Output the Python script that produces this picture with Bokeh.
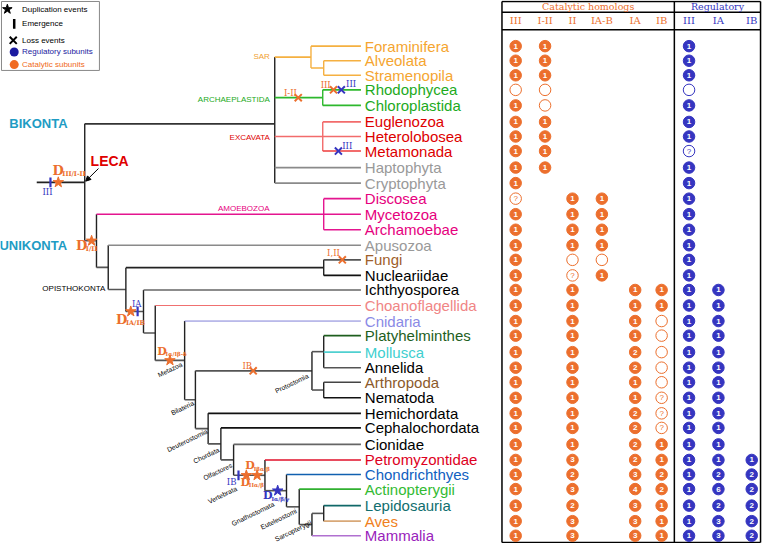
import math
from bokeh.plotting import figure
from bokeh.models import Range1d, Arrow, NormalHead
from bokeh.core.properties import value
from bokeh.embed import file_html
from bokeh.resources import INLINE

# ---------------- data ----------------
taxa = ["Foraminifera", "Alveolata", "Stramenopila", "Rhodophycea", "Chloroplastida",
        "Euglenozoa", "Heterolobosea", "Metamonada", "Haptophyta", "Cryptophyta",
        "Discosea", "Mycetozoa", "Archamoebae", "Apusozoa", "Fungi", "Nucleariidae",
        "Ichthyosporea", "Choanoflagellida", "Cnidaria", "Platyhelminthes", "Mollusca",
        "Annelida", "Arthropoda", "Nematoda", "Hemichordata", "Cephalochordata",
        "Cionidae", "Petromyzontidae", "Chondrichthyes", "Actinopterygii",
        "Lepidosauria", "Aves", "Mammalia"]
taxa_row = [47, 62, 77, 92, 108, 125, 140, 155, 172, 188, 204, 220, 236, 252, 267, 283,
            298, 314, 330, 345, 362, 378, 393, 409, 425, 440, 457, 473, 488, 503, 520, 536, 551]

cat_cols = ["III", "I-II", "II", "IA-B", "IA", "IB"]
reg_cols = ["III", "IA", "IB"]
# "o" = absent (open circle), "?" = uncertain, "" = not shown
cat_III = ["1", "1", "1", "o", "1", "1", "1", "1", "1", "1", "?", "1", "1", "1", "1", "1", "1",
           "1", "1", "1", "1", "1", "1", "1", "1", "1", "1", "1", "1", "1", "1", "1", "1"]
cat_I_II = ["1", "1", "1", "o", "o", "1", "1", "1", "1", "", "", "", "", "", "", "", "",
            "", "", "", "", "", "", "", "", "", "", "", "", "", "", "", ""]
cat_II = ["", "", "", "", "", "", "", "", "", "", "1", "1", "1", "1", "o", "?", "1",
          "1", "1", "1", "1", "1", "1", "1", "1", "1", "1", "3", "2", "3", "2", "3", "3"]
cat_IA_B = ["", "", "", "", "", "", "", "", "", "", "1", "1", "1", "1", "o", "1", "",
            "", "", "", "", "", "", "", "", "", "", "", "", "", "", "", ""]
cat_IA = ["", "", "", "", "", "", "", "", "", "", "", "", "", "", "", "", "1",
          "1", "1", "1", "2", "2", "1", "1", "2", "2", "2", "2", "3", "4", "3", "3", "3"]
cat_IB = ["", "", "", "", "", "", "", "", "", "", "", "", "", "", "", "", "1",
          "1", "o", "o", "o", "o", "o", "?", "?", "?", "1", "1", "2", "2", "1", "1", "1"]
reg_III = ["1", "1", "1", "o", "1", "1", "1", "?", "1", "1", "1", "1", "1", "1", "1", "1", "1",
           "1", "1", "1", "1", "1", "1", "1", "1", "1", "1", "1", "1", "1", "1", "1", "1"]
reg_IA = ["", "", "", "", "", "", "", "", "", "", "", "", "", "", "", "", "1",
          "1", "1", "1", "1", "1", "1", "1", "1", "1", "1", "1", "2", "6", "2", "3", "3"]
reg_IB = ["", "", "", "", "", "", "", "", "", "", "", "", "", "", "", "", "",
          "", "", "", "", "", "", "", "", "", "", "1", "2", "2", "2", "2", "2"]

# tree: node -> (depth, children)
tree = {
    "LECA": (86, ["Bikonta", "Unikonta"]),
    "Bikonta": (280, ["SAR", "Archaeplastida", "Excavata", "Haptophyta", "Cryptophyta"]),
    "SAR": (317, ["Foraminifera", "SAR2"]),
    "SAR2": (330, ["Alveolata", "Stramenopila"]),
    "Archaeplastida": (329, ["Rhodophycea", "Chloroplastida"]),
    "Excavata": (329, ["Euglenozoa", "Heterolobosea", "Metamonada"]),
    "Unikonta": (98, ["Amoebozoa", "Obazoa"]),
    "Amoebozoa": (330, ["Discosea", "Mycetozoa", "Archamoebae"]),
    "Obazoa": (110, ["Apusozoa", "Opisthokonta"]),
    "Opisthokonta": (128, ["Holomycota", "Holozoa"]),
    "Holomycota": (330, ["Fungi", "Nucleariidae"]),
    "Holozoa": (146, ["Ichthyosporea", "Filozoa"]),
    "Filozoa": (158, ["Choanoflagellida", "Metazoa"]),
    "Metazoa": (188, ["Cnidaria", "Bilateria"]),
    "Bilateria": (199, ["Protostomia", "Deuterostomia"]),
    "Protostomia": (318, ["Lophotrochozoa", "Ecdysozoa"]),
    "Lophotrochozoa": (330, ["Platyhelminthes", "Mollusca", "Annelida"]),
    "Ecdysozoa": (330, ["Arthropoda", "Nematoda"]),
    "Deuterostomia": (212, ["Hemichordata", "Chordata"]),
    "Chordata": (225, ["Cephalochordata", "Olfactores"]),
    "Olfactores": (238, ["Cionidae", "Vertebrata"]),
    "Vertebrata": (270, ["Petromyzontidae", "Gnathostomata"]),
    "Gnathostomata": (292, ["Chondrichthyes", "Euteleostomi"]),
    "Euteleostomi": (305, ["Actinopterygii", "Sarcopterygii"]),
    "Sarcopterygii": (318, ["Tetrapoda", "Mammalia"]),
    "Tetrapoda": (330, ["Lepidosauria", "Aves"]),
}
root_stem_start = 37
node_y_override = {"Bikonta": 127}

# events: (branch leading into node, position along branch, subunit kind)
dup_events = [("LECA", 59, "cat"), ("Unikonta", 93, "cat"), ("Holozoa", 133, "cat"),
              ("Metazoa", 173, "cat"), ("Vertebrata", 251, "cat"), ("Vertebrata", 262, "cat"),
              ("Gnathostomata", 283, "reg")]
emerg_events = [("LECA", 51, "reg"), ("Holozoa", 140, "reg"), ("Vertebrata", 243, "reg")]
loss_events = [("Archaeplastida", 304, "cat"), ("Rhodophycea", 340, "cat"),
               ("Rhodophycea", 348, "reg"), ("Metamonada", 345, "reg"),
               ("Fungi", 349, "cat"), ("Protostomia", 258, "cat")]

# ---------------- styles ----------------
ORANGE = "#EC6F2D"
BLUE = "#3535C0"
SANS = "Liberation Sans"
SERIF = "DejaVu Serif"
LEAF_END = 368

taxa_color = {
    "Foraminifera": "#F5A530", "Alveolata": "#F5A530", "Stramenopila": "#F5A530",
    "Rhodophycea": "#1DAA1D", "Chloroplastida": "#1DAA1D",
    "Euglenozoa": "#DD0000", "Heterolobosea": "#DD0000", "Metamonada": "#DD0000",
    "Haptophyta": "#999999", "Cryptophyta": "#999999",
    "Discosea": "#E6007E", "Mycetozoa": "#E6007E", "Archamoebae": "#E6007E",
    "Apusozoa": "#999999", "Fungi": "#A0602A", "Nucleariidae": "#000000",
    "Ichthyosporea": "#000000", "Choanoflagellida": "#F08585", "Cnidaria": "#8A8AE6",
    "Platyhelminthes": "#1E5E1E", "Mollusca": "#40CFCF", "Annelida": "#000000",
    "Arthropoda": "#8B5A2B", "Nematoda": "#000000", "Hemichordata": "#000000",
    "Cephalochordata": "#000000", "Cionidae": "#000000", "Petromyzontidae": "#DD0022",
    "Chondrichthyes": "#1060C0", "Actinopterygii": "#33BB33", "Lepidosauria": "#106E6E",
    "Aves": "#F08020", "Mammalia": "#9922BB",
}
edge_color = {
    "Bikonta": "#333333", "SAR": "#F5B041", "SAR2": "#F5B041", "Foraminifera": "#F5B041",
    "Alveolata": "#F5B041", "Stramenopila": "#F5B041",
    "Archaeplastida": "#2DB82D", "Rhodophycea": "#2DB82D", "Chloroplastida": "#2DB82D",
    "Excavata": "#F26B6B", "Euglenozoa": "#F26B6B", "Heterolobosea": "#F26B6B",
    "Metamonada": "#EE3B3B", "Haptophyta": "#8A8A8A", "Cryptophyta": "#8A8A8A",
    "Amoebozoa": "#E4158F", "Discosea": "#E4158F", "Mycetozoa": "#E4158F",
    "Archamoebae": "#E4158F", "Apusozoa": "#8A8A8A", "Holomycota": "#222222",
    "Fungi": "#555555", "Nucleariidae": "#111111", "Ichthyosporea": "#666666",
    "Choanoflagellida": "#F07070", "Cnidaria": "#8080D8", "Platyhelminthes": "#1E5E1E",
    "Mollusca": "#50D0D0", "Annelida": "#555555", "Arthropoda": "#444444",
    "Nematoda": "#111111", "Hemichordata": "#111111", "Cephalochordata": "#111111",
    "Cionidae": "#666666", "Petromyzontidae": "#E0102A", "Chondrichthyes": "#1060B0",
    "Actinopterygii": "#30B030", "Lepidosauria": "#106868", "Aves": "#D8A878",
    "Mammalia": "#B070D0",
}
thin_edges = {"Choanoflagellida", "Cnidaria"}
vert_color = {"SAR": "#F5B041", "SAR2": "#F5B041", "Archaeplastida": "#2DB82D",
              "Excavata": "#F26B6B", "Amoebozoa": "#E4158F"}

# ---------------- figure ----------------
p = figure(width=762, height=543, x_range=Range1d(0, 778), y_range=Range1d(559, 0),
           output_backend="svg", toolbar_location=None, min_border=0,
           x_axis_type=None, y_axis_type=None)
p.grid.visible = False
p.outline_line_color = None
p.background_fill_color = "white"
p.border_fill_color = "white"

leaf_y = dict(zip(taxa, taxa_row))


def node_pos(name):
    if name in leaf_y:
        return LEAF_END, leaf_y[name]
    x, kids = tree[name]
    ys = [node_pos(k)[1] for k in kids]
    return x, node_y_override.get(name, (min(ys) + max(ys)) / 2.0)


segs = dict(x0=[], y0=[], x1=[], y1=[], c=[], w=[])


def add_seg(x0, y0, x1, y1, c, w):
    segs["x0"].append(x0); segs["y0"].append(y0)
    segs["x1"].append(x1); segs["y1"].append(y1)
    segs["c"].append(c); segs["w"].append(w)


def draw(name):
    x, kids = tree[name]
    kp = [node_pos(k) for k in kids]
    ys = [q[1] for q in kp]
    add_seg(x, min(ys), x, max(ys), vert_color.get(name, "#222222"), 1.4)
    for k, (kx, ky) in zip(kids, kp):
        add_seg(x, ky, kx, ky, edge_color.get(k, "#555555"), 1.0 if k in thin_edges else 1.6)
        if k in tree:
            draw(k)


rx, ry = node_pos("LECA")
add_seg(root_stem_start, ry, rx, ry, "#222222", 1.6)
draw("LECA")
p.segment(x0="x0", y0="y0", x1="x1", y1="y1", line_color="c", line_width="w", source=segs)

# leaf labels
p.text(x=[LEAF_END + 4] * len(taxa), y=taxa_row, text=taxa,
       text_color=[taxa_color[t] for t in taxa], text_font=value(SANS),
       text_font_size="15px", text_baseline="middle", text_align="left")


def ev_xy(evs):
    xs, ys, cs = [], [], []
    for node, xpos, kind in evs:
        xs.append(xpos)
        ys.append(node_pos(node)[1])
        cs.append(ORANGE if kind == "cat" else BLUE)
    return xs, ys, cs


# emergence ticks
ex, ey, ec = ev_xy(emerg_events)
p.segment(x0=ex, y0=[v - 5 for v in ey], x1=ex, y1=[v + 5 for v in ey], line_color=ec, line_width=2.2)
# duplication stars
dx, dy, dc = ev_xy(dup_events)
p.scatter(x=dx, y=dy, marker="star", size=11, fill_color=dc, line_color=dc)
# losses
lx, ly, lc = ev_xy(loss_events)
p.scatter(x=lx, y=ly, marker="x", size=10, line_color=lc, line_width=2)


def txt(x, y, s, color="black", size="9px", font=SANS, style="normal", align="left",
        baseline="middle", angle=0.0):
    p.text(x=[x], y=[y], text=[s], text_color=color, text_font=value(font),
           text_font_size=size, text_font_style=style, text_align=align,
           text_baseline=baseline, angle=angle)


def dlabel(x, y, sub, color, big=13, small=6.5):
    txt(x, y, "D", color, f"{big}px", SERIF, "bold")
    txt(x + big * 0.78, y + big * 0.28, sub, color, f"{small}px", SERIF, "bold")


dlabel(53, 175, "III/I-II", ORANGE)
dlabel(77, 252, "I/II", ORANGE)
dlabel(118, 328, "IA/IB", ORANGE)
dlabel(160, 361, "I\u03b1/I\u03b2-\u03b4", ORANGE, 11, 5.5)
dlabel(250, 479, "I\u03b2\u03b1/\u03b2", ORANGE, 11, 5.5)
dlabel(245, 496, "II\u03b1/\u03b2", ORANGE, 11, 5.5)
dlabel(268, 510, "I\u03b1/\u03b2/\u03b3", BLUE, 11, 5.5)

# small event labels
SM = "8.5px"
txt(48, 197, "III", BLUE, SM, SERIF, align="center")
txt(139, 312, "IA", BLUE, SM, SERIF, align="center")
txt(236, 496, "IB", BLUE, SM, SERIF, align="center")
txt(296, 95, "I-II", ORANGE, SM, SERIF, align="center")
txt(332, 87, "III", ORANGE, SM, SERIF, align="center")
txt(358, 86, "III", BLUE, SM, SERIF, align="center")
txt(354, 150, "III", BLUE, SM, SERIF, align="center")
txt(340, 260, "I,II", ORANGE, SM, SERIF, align="center")
txt(252, 376, "IB", ORANGE, SM, SERIF, align="center")

# clade labels
txt(275, 58, "SAR", "#F0A030", "8px", align="right")
txt(275, 102, "ARCHAEPLASTIDA", "#22AA22", "8px", align="right")
txt(275, 141, "EXCAVATA", "#DD0000", "8px", align="right")
txt(222, 214, "AMOEBOZOA", "#E6007E", "8px", align="left")
txt(107, 297, "OPISTHOKONTA", "black", "8px", align="right")
txt(9, 127, "BIKONTA", "#1E9CC4", "13px", style="bold")
txt(68, 252, "UNIKONTA", "#1E9CC4", "13px", style="bold", align="right")
txt(92, 165, "LECA", "#E00000", "14px", style="bold")
p.add_layout(Arrow(end=NormalHead(size=5, fill_color="black", line_color="black"),
                   x_start=100, y_start=173, x_end=87, y_end=186, line_width=1))

# rotated small clade names
ang = 0.45
for name, ex_, ey_ in [("Metazoa", 185, 374), ("Bilateria", 197, 414), ("Protostomia", 314, 386),
                       ("Deuterostomia", 211, 443), ("Chordata", 223, 462),
                       ("Olfactores", 236, 478), ("Vertebrata", 241, 502),
                       ("Gnathostomata", 279, 518), ("Euteleostomi", 302, 525),
                       ("Sarcopterygii", 317, 537)]:
    txt(ex_, ey_, name, "black", "6.8px", align="right", angle=ang)

# legend box
p.quad(left=1, right=101, top=1, bottom=72, fill_color="white", line_color="#888888", line_width=1)
p.scatter(x=[7], y=[9], marker="star", size=10, fill_color="black", line_color="black")
p.segment(x0=[14], y0=[19], x1=[14], y1=[29], line_color="black", line_width=2.5)
p.scatter(x=[13], y=[41], marker="x", size=10, line_color="black", line_width=2)
p.scatter(x=[14, 14], y=[53, 66], marker="circle", size=9, fill_color=["#1A1AA0", "#F06A20"],
          line_color=None)
txt(22, 9, "Duplication events", "black", "8px")
txt(22, 24, "Emergence", "black", "8px")
txt(22, 41, "Loss events", "black", "8px")
txt(22, 53, "Regulatory subunits", "#1A1AA0", "8px")
txt(22, 66, "Catalytic subunits", "#F06A20", "8px")

# ---------------- table ----------------
tab_l, tab_m, tab_r, tab_t, tab_b = 512, 688, 776, 1, 558
cat_x = [526, 556, 584, 614, 648, 675]
reg_x = [703, 733, 767]
p.segment(x0=[tab_l, tab_m, tab_r, tab_l, tab_l, tab_l, tab_l],
          y0=[tab_t, tab_t, tab_t, tab_t, 12, 30, tab_b],
          x1=[tab_l, tab_m, tab_r, tab_r, tab_r, tab_r, tab_r],
          y1=[tab_b, tab_b, tab_b, tab_t, 12, 30, tab_b],
          line_color="black", line_width=1.5)
txt((tab_l + tab_m) / 2, 6.5, "Catalytic homologs", ORANGE, "9.5px", SERIF, align="center")
txt((tab_m + tab_r) / 2, 6.5, "Regulatory", BLUE, "9.5px", SERIF, align="center")
p.text(x=cat_x, y=[21] * 6, text=cat_cols, text_color=ORANGE, text_font=value(SERIF),
       text_font_size="10px", text_align="center", text_baseline="middle")
p.text(x=reg_x, y=[21] * 3, text=reg_cols, text_color=BLUE, text_font=value(SERIF),
       text_font_size="10px", text_align="center", text_baseline="middle")


def table_col(xc, vals, color):
    fx, fy, ft, ox, oy, qx, qy = [], [], [], [], [], [], []
    for v, yy in zip(vals, taxa_row):
        if v == "":
            continue
        if v == "o":
            ox.append(xc); oy.append(yy)
        elif v == "?":
            ox.append(xc); oy.append(yy); qx.append(xc); qy.append(yy)
        else:
            fx.append(xc); fy.append(yy); ft.append(v)
    if fx:
        p.scatter(x=fx, y=fy, marker="circle", size=11.5, fill_color=color, line_color=color)
        p.text(x=fx, y=fy, text=ft, text_color="white", text_font=value(SANS),
               text_font_size="8px", text_font_style="bold", text_align="center",
               text_baseline="middle")
    if ox:
        p.scatter(x=ox, y=oy, marker="circle", size=11.5, fill_color="white",
                  line_color=color, line_width=1)
    if qx:
        p.text(x=qx, y=qy, text=["?"] * len(qx), text_color=color, text_font=value(SANS),
               text_font_size="8px", text_align="center", text_baseline="middle")


for xc, vals in zip(cat_x, [cat_III, cat_I_II, cat_II, cat_IA_B, cat_IA, cat_IB]):
    table_col(xc, vals, ORANGE)
for xc, vals in zip(reg_x, [reg_III, reg_IA, reg_IB]):
    table_col(xc, vals, BLUE)

open("out.html", "w").write(file_html(p, INLINE))
